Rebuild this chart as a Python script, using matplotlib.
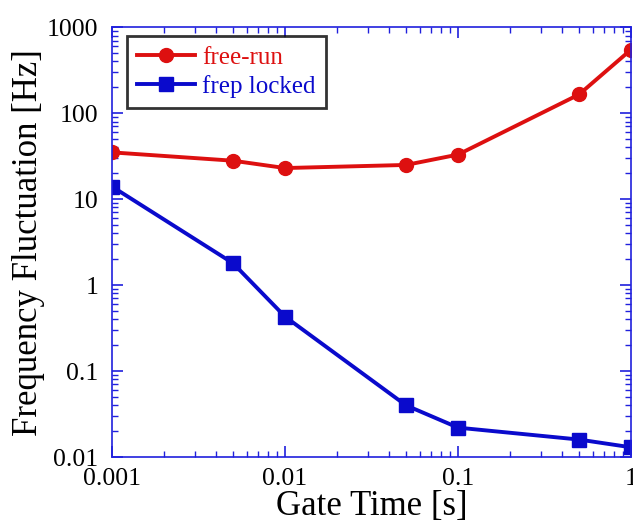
import numpy as np
import matplotlib
matplotlib.use("Agg")
import matplotlib.pyplot as plt
from matplotlib.ticker import LogLocator, FixedLocator, FixedFormatter, NullFormatter

plt.rcParams['font.family'] = ['Liberation Serif', 'DejaVu Serif']

gate = [0.001, 0.005, 0.01, 0.05, 0.1, 0.5, 1.0]
free_run = [35, 28, 23, 25, 33, 165, 550]
frep_locked = [14, 1.8, 0.43, 0.04, 0.022, 0.016, 0.013]

red = "#dd1010"
blue = "#0a0acc"
axblue = "#2020dd"

fig = plt.figure(figsize=(6.33, 5.23), dpi=100)
ax = fig.add_axes([0.177, 0.126, 0.820, 0.822])

ax.plot(gate, free_run, color=red, lw=2.8, marker="o", ms=10, label="free-run")
ax.plot(gate, frep_locked, color=blue, lw=2.8, marker="s", ms=9.5, label="frep locked")

ax.set_xscale("log")
ax.set_yscale("log")
ax.set_xlim(0.001, 1)
ax.set_ylim(0.01, 1000)

xt = [0.001, 0.01, 0.1, 1]
yt = [0.01, 0.1, 1, 10, 100, 1000]
ax.xaxis.set_major_locator(FixedLocator(xt))
ax.xaxis.set_major_formatter(FixedFormatter(["0.001", "0.01", "0.1", "1"]))
ax.yaxis.set_major_locator(FixedLocator(yt))
ax.yaxis.set_major_formatter(FixedFormatter(["0.01", "0.1", "1", "10", "100", "1000"]))
ax.xaxis.set_minor_locator(LogLocator(base=10, subs=np.arange(2, 10)))
ax.yaxis.set_minor_locator(LogLocator(base=10, subs=np.arange(2, 10)))
ax.xaxis.set_minor_formatter(NullFormatter())
ax.yaxis.set_minor_formatter(NullFormatter())

for s in ax.spines.values():
    s.set_color(axblue)
    s.set_linewidth(1.2)
ax.tick_params(which="both", direction="in", top=True, right=True,
               color=axblue, labelcolor="black", labelsize=18.5)
ax.tick_params(axis="y", pad=10)
ax.tick_params(axis="x", pad=8)
ax.tick_params(which="major", length=8, width=1.2)
ax.tick_params(which="minor", length=4, width=1.0)

ax.set_xlabel("Gate Time [s]", fontsize=25, labelpad=0)
ax.set_ylabel("Frequency Fluctuation [Hz]", fontsize=25, labelpad=1)

leg = ax.legend(loc="upper left", fontsize=18, frameon=True, fancybox=False,
                borderpad=0.4, handlelength=2.3, handletextpad=0.3,
                labelspacing=0.25, bbox_to_anchor=(0.029, 0.979), borderaxespad=0)
leg.get_frame().set_edgecolor("black")
leg.get_frame().set_linewidth(2)
for txt, c in zip(leg.get_texts(), [red, blue]):
    txt.set_color(c)

fig.savefig("out.png", dpi=100)
